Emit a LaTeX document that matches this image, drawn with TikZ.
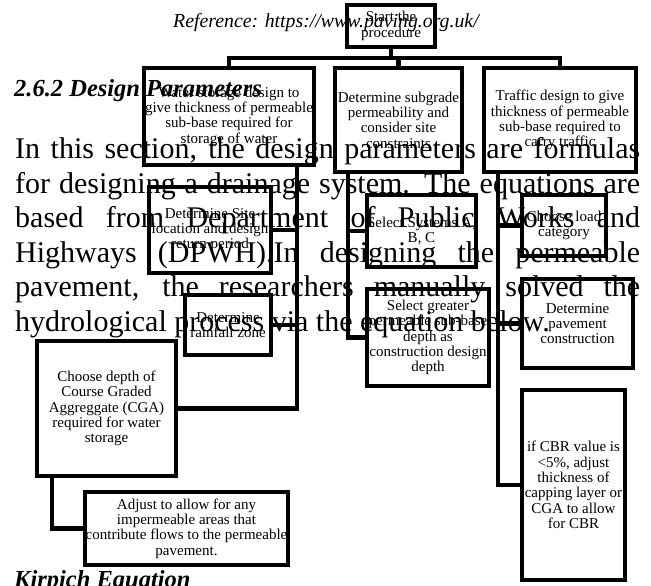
\documentclass[tikz,border=0pt]{standalone}
\usepackage{fontspec}
\setmainfont{Liberation Serif}
\begin{document}
\begin{tikzpicture}[x=1pt,y=-1pt,
  fbox/.style={draw, line width=4.2pt, align=center, inner sep=0pt, font=\fontsize{15}{15.3}\selectfont},
  conn/.style={line width=4.2pt},
  body/.style={anchor=base west, inner sep=0pt, font=\fontsize{30}{34.6}\selectfont},
  head/.style={anchor=base west, inner sep=0pt, font=\fontsize{24.5}{30}\selectfont\bfseries\itshape},
  refline/.style={anchor=base west, inner sep=0pt, font=\fontsize{19.8}{24}\selectfont\itshape}]
\useasboundingbox (0,0) rectangle (651,586);

% page text
\node[refline] (ref) at (173,28) {Reference: https://www.paving.org.uk/};
\node[head] (h1) at (14,96) {2.6.2 Design Parameters};
\node[body] (l1) at (15,158.5) {\makebox[625pt][s]{In this section, the design parameters are formulas}};
\node[body] (l2) at (15,193.1) {\makebox[625pt][s]{for designing a drainage system. The equations are}};
\node[body] (l3) at (15,227.7) {\makebox[625pt][s]{based from Department of Public Works and}};
\node[body] (l4) at (15,262.3) {\makebox[625pt][s]{Highways (DPWH).In designing the permeable}};
\node[body] (l5) at (15,296.9) {\makebox[625pt][s]{pavement, the researchers manually solved the}};
\node[body] (l6) at (15,331.5) {hydrological process via the equation below.};
\node[head] (h2) at (14,587) {Kirpich Equation};

% flowchart boxes
\node[fbox, minimum width=88pt, minimum height=42pt] (start) at (391,26) {Start the\\procedure};
\node[fbox, minimum width=170pt, minimum height=97pt] (water) at (229,116.5) {Water storage design to\\give thickness of permeable\\sub-base required for\\storage of water};
\node[fbox, minimum width=127pt, minimum height=104pt] (sub) at (398.5,120) {Determine subgrade\\permeability and\\consider site\\constraints};
\node[fbox, minimum width=152pt, minimum height=104pt] (traffic) at (560,120) {Traffic design to give\\thickness of permeable\\sub-base required to\\carry traffic};
\node[fbox, minimum width=122pt, minimum height=86pt] (site) at (210,230) {Determine Site\\location and design\\return period};
\node[fbox, minimum width=86pt, minimum height=60pt] (rain) at (228,325) {Determine\\rainfall zone};
\node[fbox, minimum width=139pt, minimum height=135pt] (cga) at (106.5,408.5) {Choose depth of\\Course Graded\\Aggreggate (CGA)\\required for water\\storage};
\node[fbox, minimum width=203pt, minimum height=73pt] (adjust) at (186.5,528.5) {Adjust to allow for any\\impermeable areas that\\contribute flows to the permeable\\pavement.};
\node[fbox, minimum width=107pt, minimum height=72pt] (systems) at (421.5,231) {Select Systems A,\\B, C};
\node[fbox, minimum width=122pt, minimum height=97pt] (greater) at (428,337.5) {Select greater\\permeable sub-base\\depth as\\construction design\\depth};
\node[fbox, minimum width=84pt, minimum height=61pt] (load) at (564,225.5) {Choose load\\category};
\node[fbox, minimum width=111pt, minimum height=89pt] (pave) at (577.5,323.5) {Determine\\pavement\\construction};
\node[fbox, minimum width=103pt, minimum height=190pt] (cbr) at (573.5,485) {if CBR value is\\<5\%, adjust\\thickness of\\capping layer or\\CGA to allow\\for CBR};

% connectors
\coordinate (bus) at (391,58);
\coordinate (wt) at (297,0);
\coordinate (st) at (348,0);
\coordinate (tt) at (498,0);
\coordinate (ct) at (52,0);
\draw[conn] (start.south) -- (bus);
\draw[conn] (water.north) |- (bus) -| (traffic.north);
\draw[conn] (bus -| sub.north) -- (sub.north);
\draw[conn] (water.south -| wt) |- (cga.east);
\draw[conn] (site.east) -- (site.east -| wt);
\draw[conn] (rain.east) -- (rain.east -| wt);
\draw[conn] (sub.south -| st) |- (greater.west);
\draw[conn] (systems.west) -- (systems.west -| st);
\draw[conn] (traffic.south -| tt) |- (cbr.west);
\draw[conn] (load.west) -- (load.west -| tt);
\draw[conn] (pave.west) -- (pave.west -| tt);
\draw[conn] (cga.south -| ct) |- (adjust.west);
\end{tikzpicture}
\end{document}
